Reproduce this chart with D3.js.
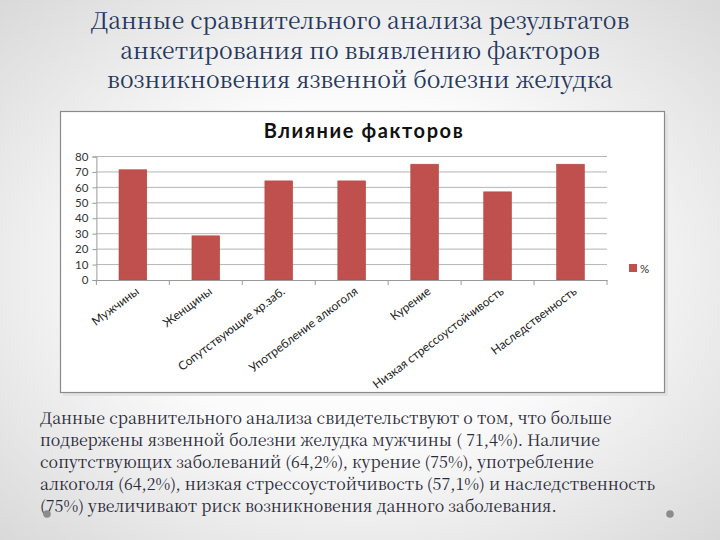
<!DOCTYPE html>
<html><head><meta charset="utf-8">
<script src="https://cdn.jsdelivr.net/npm/d3@7/dist/d3.min.js"></script>
<style>html,body{margin:0;padding:0;}
body{background:radial-gradient(ellipse at center,#ffffff 0%,#fbfbfb 45%,#d9d9d9 100%);width:720px;height:540px;}
svg{display:block;}</style>
</head><body>
<svg id="c" width="720" height="540"></svg>
<script>
const categories = ["Мужчины","Женщины","Сопутствующие хр.заб.","Употребление алкоголя","Курение","Низкая стрессоустойчивость","Наследственность"];
const values = [71.4, 28.6, 64.2, 64.2, 75, 57.1, 75];
const yTicks = [0,10,20,30,40,50,60,70,80];
const seriesName = "%";
const chartTitle = "Влияние факторов";
const slideTitle = ["Данные сравнительного анализа результатов","анкетирования по выявлению факторов","возникновения язвенной болезни желудка"];
const bodyLines = [
 "Данные сравнительного анализа свидетельствуют о том, что больше",
 "подвержены язвенной болезни желудка мужчины ( 71,4%). Наличие",
 "сопутствующих заболеваний (64,2%), курение (75%), употребление",
 "алкоголя (64,2%), низкая стрессоустойчивость (57,1%) и наследственность",
 "(75%) увеличивают риск возникновения данного заболевания."
];

const SERIF = "'Noto Serif CJK SC', 'DejaVu Serif', monospace";
const SANS = "'Lato', 'Open Sans', sans-serif";

const svg = d3.select("#c");

// slide title
const titleY = [29, 59, 88];
slideTitle.forEach((t,i)=>{
  svg.append("text").style("font-family",SERIF).attr("font-size",23)
   .attr("x",360).attr("y",titleY[i]).attr("text-anchor","middle")
   .attr("fill","#26375e").text(t);
});

// chart box
svg.append("rect").attr("x",63).attr("y",114).attr("width",605).attr("height",282).attr("fill","#e2e2e2");
svg.append("rect").attr("x",60.5).attr("y",111.5).attr("width",604).attr("height",281)
  .attr("fill","#ffffff").attr("stroke","#8a8a8a").attr("stroke-width",1.2);

svg.append("text").attr("x",364).attr("y",138).attr("text-anchor","middle")
  .style("font-family",SANS).style("letter-spacing","1.6px").attr("font-weight","bold").attr("font-size",20)
  .attr("fill","#111").text(chartTitle);

const x = d3.scaleBand().domain(categories).range([96.4, 607]).paddingInner(0.62).paddingOuter(0.31);
const y = d3.scaleLinear().domain([0,80]).range([280, 156.5]);

// gridlines
svg.append("g").selectAll("line").data(yTicks.slice(1)).join("line")
  .attr("x1",96.4).attr("x2",607).attr("y1",d=>y(d)).attr("y2",d=>y(d))
  .attr("stroke","#b5b5b5").attr("stroke-width",1);

// y axis
const ya = svg.append("g").attr("transform","translate(96.4,0)")
  .call(d3.axisLeft(y).tickValues(yTicks).tickSize(4).tickPadding(4));
ya.select(".domain").attr("stroke","#9a9a9a");
ya.selectAll(".tick line").attr("stroke","#9a9a9a");
ya.selectAll("text").style("font-family",SANS).attr("font-size",11.5).attr("fill","#333");

// bars
svg.append("g").selectAll("rect").data(values).join("rect")
  .attr("x",(d,i)=>x(categories[i])).attr("width",x.bandwidth())
  .attr("y",d=>y(d)).attr("height",d=>y(0)-y(d))
  .attr("fill","#c0504d").attr("stroke","#b4443f").attr("stroke-width",0.6);

// x axis
const xa = svg.append("g").attr("transform","translate(0,280)")
  .call(d3.axisBottom(x).tickSize(0).tickPadding(0));
xa.select(".domain").attr("stroke","#9a9a9a");
const step = x.step();
svg.append("g").selectAll("line").data(d3.range(categories.length+1)).join("line")
  .attr("x1",d=>96.4+d*step).attr("x2",d=>96.4+d*step).attr("y1",280).attr("y2",285)
  .attr("stroke","#9a9a9a");
xa.selectAll(".tick text")
  .style("font-family",SANS).attr("font-size",12).attr("fill","#222")
  .attr("text-anchor","end").attr("dy",0).attr("y",0)
  .attr("transform","translate(7,13) rotate(-37)");

// legend
svg.append("rect").attr("x",629).attr("y",264).attr("width",8).attr("height",8).attr("fill","#c0504d");
svg.append("text").attr("x",640).attr("y",273).style("font-family",SANS).attr("font-size",11.5)
  .attr("fill","#333").text(seriesName);

// body text
const bodyY = [424, 446, 468, 490, 512];
bodyLines.forEach((t,i)=>{
  svg.append("text").style("font-family",SERIF).attr("font-size",16)
   .attr("x",40).attr("y",bodyY[i]).attr("fill","#2a2a3a").text(t);
});

// decorative dots
[[47,514],[670,514]].forEach(p=>{
  svg.append("circle").attr("cx",p[0]).attr("cy",p[1]).attr("r",3.8).attr("fill","#8c8c8c");
});
</script>
</body></html>
